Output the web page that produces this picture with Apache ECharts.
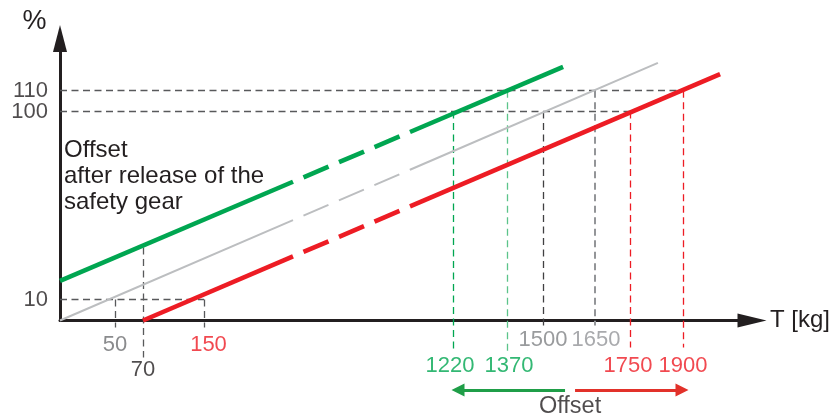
<!DOCTYPE html>
<html><head><meta charset="utf-8">
<script src="https://cdn.jsdelivr.net/npm/echarts@6/dist/echarts.min.js"></script>
<style>html,body{margin:0;padding:0;background:#fff}#c{width:834px;height:418px}</style>
</head><body><div id="c"></div>
<script>
// ---------------- DATA (T in kg, load in %) ----------------
const yTickValues = [10, 100, 110];
const xTickValues = [50, 70, 150, 1220, 1370, 1500, 1650, 1750, 1900];
// straight characteristic lines: [start, end] as [kg, %]
const greenLine = [[0, 19], [1558, 121.4]];   // offset after release (-)
const grayLine  = [[0, 0], [1829, 123.3]];    // nominal
const redLine   = [[70, 0], [2029, 118]];     // offset after release (+)
// horizontal guide levels (%) and the kg where each guide stops
const guideLevels = [110, 100, 10];
const guideLevelEnds = [1900, 1750, 150];
// vertical guides: kg and the % level they start from
const vGuideKg  = [50, 70, 150, 1220, 1370, 1500, 1650, 1750, 1900];
const vGuideTop = [10, 35, 10, 100, 110, 100, 110, 100, 110];
// "Offset" arrows span
const offsetFromKg = 1220, offsetToKg = 1900, offsetMidKg = 1578;

// ---------------- SCHEMATIC (broken) X SCALE ----------------
// the drawing's T axis is not to scale: piecewise-linear kg -> axis unit
const scaleKg = [0, 50, 70, 150, 250, 1090, 1220, 1370, 1500, 1650, 1750, 1900, 2140];
const scaleU  = [0, 55, 83, 144, 233, 350, 393, 447, 483, 535, 570, 623, 692];
const breakKg = [250, 1090]; // region where the lines are drawn dashed
function xScale(kg) {
  for (let i = 1; i < scaleKg.length; i++) {
    if (kg <= scaleKg[i]) {
      const t = (kg - scaleKg[i - 1]) / (scaleKg[i] - scaleKg[i - 1]);
      return scaleU[i - 1] + t * (scaleU[i] - scaleU[i - 1]);
    }
  }
  return scaleU[scaleU.length - 1];
}

// ---------------- LAYOUT / STYLE ----------------
const FONT = '"Liberation Sans", Arial, sans-serif';
const INK = '#231f20';
const GREEN = '#00a651', RED = '#ed1c24', GRAY = '#bcbec0';
const GUIDE = '#58595b';
const GRID = {left: 60, right: 82, top: 38.5, bottom: 97.5};
const Y_MAX = 135, X_MAX = scaleU[scaleU.length - 1];
const pxPerY = (418 - GRID.top - GRID.bottom) / Y_MAX;
const belowAxis = px => -px / pxPerY;

const vGuideStyle = [
  {c: GUIDE, w: 1.3, b: 7}, {c: GUIDE, w: 1.3, b: 37}, {c: GUIDE, w: 1.3, b: 7},
  {c: GREEN, w: 1.3, b: 31}, {c: '#5cc48a', w: 1.3, b: 31}, {c: '#414042', w: 1.3, b: 8},
  {c: '#939598', w: 2, b: 5}, {c: RED, w: 1.3, b: 27}, {c: RED, w: 1.3, b: 27}
];
const tickLabelStyle = [
  {c: '#6d6e71', dx: 0, dy: 24.5}, {c: INK, dx: 0, dy: 49.5}, {c: RED, dx: 4.5, dy: 24.5},
  {c: GREEN, dx: -3, dy: 45.5}, {c: GREEN, dx: 2, dy: 45.5}, {c: '#808285', dx: 0, dy: 19.5},
  {c: '#939598', dx: 1, dy: 19.5}, {c: RED, dx: -2, dy: 45.5}, {c: RED, dx: 0, dy: 45.5}
];

// ---------------- BUILD ----------------
function segments(line, color, width) {
  const a = [xScale(line[0][0]), line[0][1]];
  const b = [xScale(line[1][0]), line[1][1]];
  const yAt = u => a[1] + (b[1] - a[1]) * (u - a[0]) / (b[0] - a[0]);
  const u1 = xScale(breakKg[0]), u2 = xScale(breakKg[1]);
  const p1 = [u1, yAt(u1)], p2 = [u2, yAt(u2)];
  const base = {color, width, opacity: 1, cap: 'butt'};
  return [
    {coords: [a, p1], lineStyle: Object.assign({type: 'solid'}, base)},
    {coords: [p1, p2], lineStyle: Object.assign({type: [27.2, 11.4], dashOffset: 27.2}, base)},
    {coords: [p2, b], lineStyle: Object.assign({type: 'solid'}, base)}
  ];
}

const guideData = [];
guideLevels.forEach((lv, i) => {
  guideData.push({coords: [[0, lv], [xScale(guideLevelEnds[i]), lv]],
    lineStyle: {color: GUIDE, width: 1.3, type: [7, 4.5], opacity: 1}});
});
vGuideKg.forEach((kg, i) => {
  const s = vGuideStyle[i];
  guideData.push({coords: [[xScale(kg), vGuideTop[i]], [xScale(kg), belowAxis(s.b)]],
    lineStyle: {color: s.c, width: s.w, type: [7, 4.5], opacity: 1}});
});

const tickLabelData = xTickValues.map((kg, i) => {
  const s = tickLabelStyle[i];
  return {value: [xScale(kg), 0], label: {formatter: String(kg), color: s.c, offset: [s.dx, s.dy]}};
});
yTickValues.forEach(v => {
  tickLabelData.push({value: [0, v], label: {formatter: String(v), color: INK, align: 'right', offset: [-12, 0]}});
});
tickLabelData.push({value: [xScale(offsetMidKg), 0],
  label: {formatter: 'Offset', color: INK, fontSize: 23.5, offset: [0, 86.5]}});

const yArrow = belowAxis(69.5);
const arrowData = [
  {coords: [[xScale(offsetMidKg) - 5, yArrow], [xScale(offsetFromKg) + 5, yArrow]],
    lineStyle: {color: '#1f9e48', width: 3, opacity: 1}},
  {coords: [[xScale(offsetMidKg) + 5, yArrow], [xScale(offsetToKg) - 1, yArrow]],
    lineStyle: {color: '#e2312a', width: 3, opacity: 1}}
];

const option = {
  animation: false,
  backgroundColor: '#fff',
  textStyle: {fontFamily: FONT},
  grid: GRID,
  xAxis: {
    type: 'value', min: 0, max: X_MAX,
    name: 'T [kg]', nameLocation: 'end', nameGap: 18,
    nameTextStyle: {fontSize: 24, color: INK, fontFamily: FONT, align: 'left', verticalAlign: 'middle'},
    axisLine: {show: true, symbol: ['none', 'triangle'], symbolSize: [14, 29],
      lineStyle: {color: INK, width: 3}},
    axisTick: {show: false}, axisLabel: {show: false}, splitLine: {show: false}
  },
  yAxis: {
    type: 'value', min: 0, max: Y_MAX,
    axisLine: {show: true, symbol: ['none', 'triangle'], symbolSize: [14, 27],
      lineStyle: {color: INK, width: 3}},
    axisTick: {show: false}, splitLine: {show: false}, axisLabel: {show: false}
  },
  graphic: [
    {type: 'text', x: 34.5, y: 22, z: 10,
      style: {text: '%', font: '27px ' + FONT, fill: INK, align: 'center', verticalAlign: 'middle',
        textAlign: 'center', textVerticalAlign: 'middle'}},
    {type: 'text', x: 64, y: 137, z: 10,
      style: {text: 'Offset\nafter release of the\nsafety gear', font: '24px ' + FONT, fill: INK, lineHeight: 26}}
  ],
  series: [
    {type: 'lines', name: 'guides', coordinateSystem: 'cartesian2d', polyline: false, clip: false,
      silent: true, z: 2, data: guideData},
    {type: 'lines', name: 'characteristics', coordinateSystem: 'cartesian2d', polyline: false, clip: false,
      silent: true, z: 3,
      data: [].concat(segments(grayLine, GRAY, 2), segments(greenLine, GREEN, 4.6), segments(redLine, RED, 4.6))},
    {type: 'lines', name: 'offsetArrows', coordinateSystem: 'cartesian2d', polyline: false, clip: false,
      silent: true, z: 3, symbol: ['none', 'triangle'], symbolSize: [12, 13], data: arrowData},
    {type: 'scatter', name: 'tickLabels', clip: false, silent: true, z: 4,
      symbolSize: 1, itemStyle: {color: 'transparent'},
      label: {show: true, position: 'inside', fontSize: 22, fontFamily: FONT, align: 'center', verticalAlign: 'middle'},
      data: tickLabelData}
  ]
};

const chart = echarts.init(document.getElementById('c'), null, {renderer: 'canvas'});
chart.setOption(option);
</script>
</body></html>
